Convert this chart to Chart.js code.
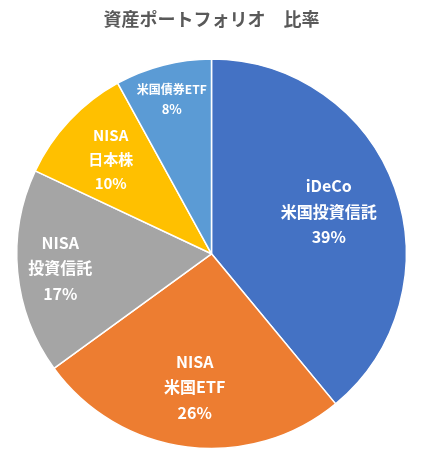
<!DOCTYPE html>
<html><head><meta charset="utf-8">
<script src="https://cdn.jsdelivr.net/npm/chart.js@4"></script>
<style>html,body{margin:0;padding:0;background:#fff}#w{width:421px;height:458px}</style>
</head><body><div id="w"><canvas id="c"></canvas></div>
<script>
const categories=[["iDeCo","米国投資信託"],["NISA","米国ETF"],["NISA","投資信託"],["NISA","日本株"],["米国債券ETF"]];
const values=[39,26,17,10,8];
const colors=['#4472C4','#ED7D31','#A5A5A5','#FFC000','#5B9BD5'];
const labelRadius=[0.64,0.69,0.78,0.71,0.82];
const labelFont=[16,16,16,15,12];
const labelPlugin={id:'lbl',afterDatasetsDraw(chart){
 const ctx=chart.ctx;const meta=chart.getDatasetMeta(0);
 meta.data.forEach((arc,i)=>{
  const a=(arc.startAngle+arc.endAngle)/2;const r=arc.outerRadius*labelRadius[i];
  const x=arc.x+Math.cos(a)*r,y=arc.y+Math.sin(a)*r;
  const lines=[...categories[i],values[i]+'%'];
  const fs=labelFont[i],lh=fs*1.6;
  ctx.save();ctx.fillStyle='#fff';ctx.font='bold '+fs+'px "Noto Sans CJK JP"';
  ctx.textAlign='center';ctx.textBaseline='middle';
  lines.forEach((t,j)=>{
    const f=(j===lines.length-1&&fs<14)?fs+1:fs;
    ctx.font='bold '+f+'px "Noto Sans CJK JP"';
    ctx.fillText(t,x,y+(j-(lines.length-1)/2)*lh);});
  ctx.restore();});
}};
new Chart(document.getElementById('c'),{type:'pie',
 data:{labels:categories.map(c=>c.join(' ')),datasets:[{data:values,backgroundColor:colors,borderColor:'#fff',borderWidth:1.5}]},
 options:{responsive:true,maintainAspectRatio:false,animation:false,
  layout:{padding:{left:16,right:14,bottom:8}},
  plugins:{legend:{display:false},tooltip:{enabled:false},
   title:{display:true,text:'資産ポートフォリオ　比率',color:'#595959',font:{size:18,weight:'bold',family:'"Noto Sans CJK JP"'},padding:{top:8,bottom:28}}}},
 plugins:[labelPlugin]});
</script></body></html>
